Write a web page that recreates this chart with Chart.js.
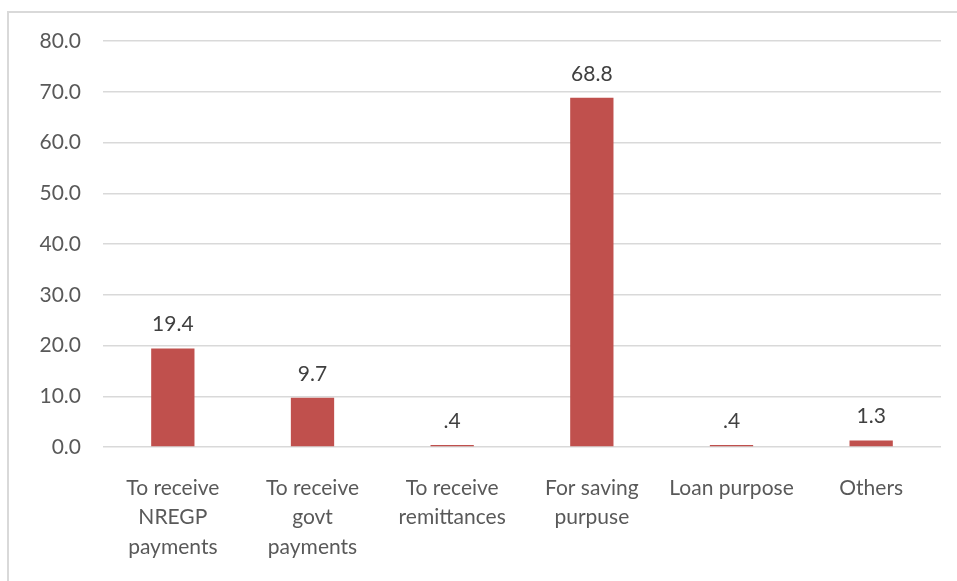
<!DOCTYPE html>
<html>
<head>
<meta charset="utf-8">
<script src="https://cdn.jsdelivr.net/npm/chart.js@4/dist/chart.umd.min.js"></script>
<style>
  html, body { margin: 0; padding: 0; background: #fff; overflow: hidden; }
  #frame {
    position: absolute; left: 7px; top: 11px;
    width: 1000px; height: 1000px;
    border: 2px solid #d9d9d9;
  }
  #wrap { position: absolute; left: 0; top: 0; width: 957px; height: 581px; }
</style>
</head>
<body>
<div id="frame"></div>
<div id="wrap"><canvas id="purposeChart" width="957" height="581"></canvas></div>
<script>
// Purpose of account, percent of respondents
const purposes = [
    ['To receive', 'NREGP', 'payments'],
    ['To receive', 'govt', 'payments'],
    ['To receive', 'remittances'],
    ['For saving', 'purpuse'],
    'Loan purpose',
    'Others'
];
const shares = [19.4, 9.7, 0.4, 68.8, 0.4, 1.3];
const yTicks = [0, 10, 20, 30, 40, 50, 60, 70, 80];

const FONT = 'Lato, "Open Sans", sans-serif';

// ".4" style for values under one, as in the source table
function fmtValue(v) {
    const s = v.toFixed(1);
    return v < 1 ? s.replace(/^0/, '') : s;
}

// Value labels above each bar
const valueLabels = {
    id: 'valueLabels',
    afterDatasetsDraw(chart) {
        const ctx = chart.ctx;
        const meta = chart.getDatasetMeta(0);
        ctx.save();
        ctx.font = '21px ' + FONT;
        ctx.fillStyle = '#404040';
        ctx.textAlign = 'center';
        ctx.textBaseline = 'middle';
        meta.data.forEach((bar, i) => {
            ctx.fillText(fmtValue(shares[i]), bar.x, bar.y - 24);
        });
        ctx.restore();
    }
};

const ctx = document.getElementById('purposeChart').getContext('2d');
new Chart(ctx, {
    type: 'bar',
    data: {
        labels: purposes,
        datasets: [{
            data: shares,
            backgroundColor: '#C0504D',
            borderWidth: 0,
            barPercentage: 0.31,
            categoryPercentage: 1
        }]
    },
    options: {
        responsive: false,
        animation: false,
        layout: { padding: { left: 0, top: 41, right: 16, bottom: 0 } },
        plugins: {
            legend: { display: false },
            tooltip: { enabled: false }
        },
        scales: {
            x: {
                grid: { display: false },
                border: { display: false },
                ticks: {
                    color: '#595959',
                    font: { family: FONT, size: 21, lineHeight: 1.42 },
                    padding: 18,
                    maxRotation: 0,
                    autoSkip: false
                },
                afterFit(scale) { scale.height = 134; }
            },
            y: {
                min: 0,
                max: 80,
                afterBuildTicks(scale) {
                    scale.ticks = yTicks.map(v => ({ value: v }));
                },
                grid: { color: '#d9d9d9', lineWidth: 1.5, drawTicks: false },
                border: { display: false },
                ticks: {
                    color: '#595959',
                    font: { family: FONT, size: 21 },
                    padding: 22,
                    callback: v => v.toFixed(1)
                },
                afterFit(scale) { scale.width = 103; }
            }
        }
    },
    plugins: [valueLabels]
});
</script>
</body>
</html>
